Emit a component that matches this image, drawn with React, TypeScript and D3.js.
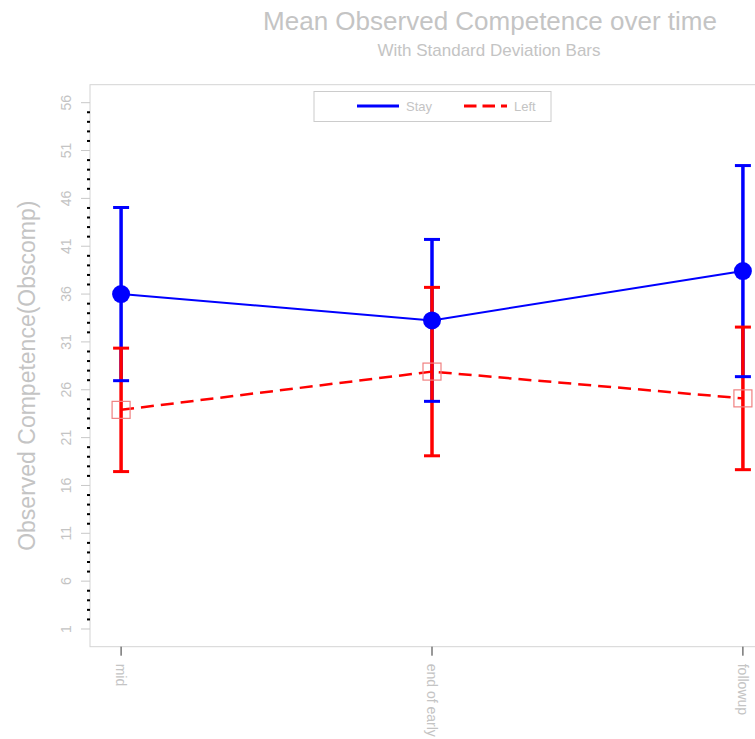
import { line as d3Line, range, scaleLinear, scalePoint } from "d3";

// time points on the x axis
const timepoints = ["mid", "end of early", "followup"];

// group means and standard deviations
const stayMean = [36.0, 33.25, 38.4];
const staySD = [9.05, 8.46, 11.03];
const leftMean = [23.9, 27.9, 25.1];
const leftSD = [6.45, 8.8, 7.45];

const yTicks = [1, 6, 11, 16, 21, 26, 31, 36, 41, 46, 51, 56];

const W = 755;
const H = 739;
const plot = { left: 90, top: 84.7, right: 774, bottom: 646.7 };
const FONT = "'Liberation Sans', Arial, sans-serif";
const TEXT = "#c4c4c4";

export default function App() {
  const x = scalePoint<string>()
    .domain(timepoints)
    .range([plot.left, plot.right])
    .padding(0.1);
  const y = scaleLinear().domain([-0.85, 57.88]).range([plot.bottom, plot.top]);

  const minor = range(1, 57).filter((v) => !yTicks.includes(v));

  const stay = timepoints.map((t, i) => ({ t, m: stayMean[i], sd: staySD[i] }));
  const left = timepoints.map((t, i) => ({ t, m: leftMean[i], sd: leftSD[i] }));

  const path = d3Line<{ t: string; m: number }>()
    .x((d) => x(d.t) ?? 0)
    .y((d) => y(d.m));

  const capW = 8;

  const bars = (data: typeof stay, color: string) =>
    data.map((d) => (
      <line
        key={d.t}
        x1={x(d.t)}
        x2={x(d.t)}
        y1={y(d.m + d.sd)}
        y2={y(d.m - d.sd)}
        stroke={color}
        strokeWidth={3.5}
      />
    ));

  const caps = (data: typeof stay, color: string) =>
    data.map((d) => (
      <g key={d.t}>
        {[d.m + d.sd, d.m - d.sd].map((v, j) => (
          <line
            key={j}
            x1={(x(d.t) ?? 0) - capW}
            x2={(x(d.t) ?? 0) + capW}
            y1={y(v)}
            y2={y(v)}
            stroke={color}
            strokeWidth={3}
          />
        ))}
      </g>
    ));

  return (
    <svg
      width={W}
      height={H}
      viewBox={`0 0 ${W} ${H}`}
      style={{ position: "absolute", left: 0, top: 0, background: "#fff" }}
      fontFamily={FONT}
    >
      {/* titles */}
      <text x={490} y={30} textAnchor="middle" fontSize={26} fill={TEXT}>
        Mean Observed Competence over time
      </text>
      <text x={489} y={56} textAnchor="middle" fontSize={17} fill={TEXT}>
        With Standard Deviation Bars
      </text>

      {/* plot frame */}
      <rect
        x={plot.left}
        y={plot.top}
        width={plot.right - plot.left + 20}
        height={plot.bottom - plot.top}
        fill="none"
        stroke="#d4d4d4"
        strokeWidth={1}
      />

      {/* y axis */}
      {minor.map((v) => (
        <rect key={v} x={87} y={y(v) - 1} width={3} height={2} fill="#000" />
      ))}
      {yTicks.map((v) => (
        <g key={v}>
          <line x1={81} x2={90} y1={y(v)} y2={y(v)} stroke="#c8c8c8" strokeWidth={1} />
          <text
            transform={`translate(66,${y(v)}) rotate(-90)`}
            textAnchor="middle"
            dominantBaseline="central"
            fontSize={14}
            fill={TEXT}
          >
            {v}
          </text>
        </g>
      ))}
      <text
        transform={`translate(27,${(plot.top + plot.bottom) / 2 + 10}) rotate(-90)`}
        textAnchor="middle"
        dominantBaseline="central"
        fontSize={23}
        fill={TEXT}
      >
        Observed Competence(Obscomp)
      </text>

      {/* x axis */}
      {timepoints.map((t) => (
        <g key={t}>
          <line
            x1={x(t)}
            x2={x(t)}
            y1={plot.bottom}
            y2={plot.bottom + 9}
            stroke="#333"
            strokeWidth={1}
          />
          <text
            transform={`translate(${x(t)},${plot.bottom + 17}) rotate(90)`}
            dominantBaseline="central"
            fontSize={14}
            fill={TEXT}
          >
            {t}
          </text>
        </g>
      ))}

      {/* error bars */}
      {bars(stay, "#0000ff")}
      {bars(left, "#ff0000")}
      {caps(stay, "#0000ff")}
      {caps(left, "#ff0000")}

      {/* mean lines */}
      <path d={path(stay) ?? ""} fill="none" stroke="#0000ff" strokeWidth={2} />
      <path
        d={path(left) ?? ""}
        fill="none"
        stroke="#ff0000"
        strokeWidth={2.5}
        strokeDasharray="13 7"
      />

      {/* markers */}
      {stay.map((d) => (
        <circle key={d.t} cx={x(d.t)} cy={y(d.m)} r={9} fill="#0000ff" />
      ))}
      {left.map((d) => (
        <rect
          key={d.t}
          x={(x(d.t) ?? 0) - 9}
          y={y(d.m) - 8.5}
          width={18}
          height={17}
          fill="none"
          stroke="#f08080"
          strokeWidth={1.2}
        />
      ))}

      {/* legend */}
      <rect x={314} y={91.5} width={237} height={30} fill="#fff" stroke="#cccccc" strokeWidth={1} />
      <line x1={357} x2={399} y1={106} y2={106} stroke="#0000ff" strokeWidth={3} />
      <text x={406} y={110.5} fontSize={13} fill={TEXT}>
        Stay
      </text>
      <line
        x1={464}
        x2={507}
        y1={106}
        y2={106}
        stroke="#ff0000"
        strokeWidth={3}
        strokeDasharray="12.5 6"
      />
      <text x={514} y={110.5} fontSize={13} fill={TEXT}>
        Left
      </text>
    </svg>
  );
}
